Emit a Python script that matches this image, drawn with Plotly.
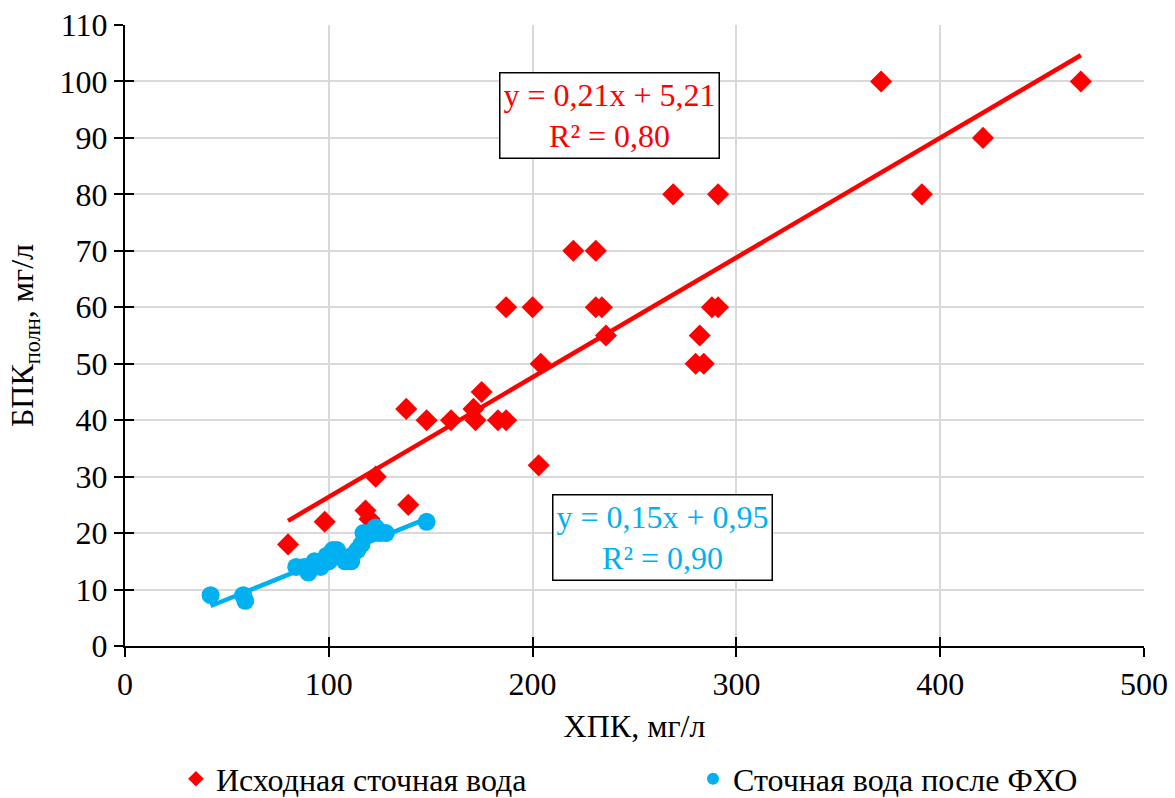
import plotly.graph_objects as go

# Исходная сточная вода: ХПК (мг/л) и БПК полн (мг/л)
raw_cod = [80, 98, 118, 120, 123, 139, 138, 148, 160, 171, 172, 175, 183, 187,
           187, 200, 204, 203, 220, 231, 231, 234, 236, 269, 282, 280, 284, 288,
           291, 291, 371, 391, 421, 469]
raw_bod = [18, 22, 24, 22.5, 30, 25, 42, 40, 40, 42, 40, 45, 40, 40,
           60, 60, 50, 32, 70, 70, 60, 60, 55, 80, 55, 50, 50, 60,
           60, 80, 100, 80, 90, 100]

# Сточная вода после ФХО
treated_cod = [42, 58, 59, 84, 88, 90, 93, 96, 99, 100, 102, 104, 108, 111,
               114, 116, 117, 120, 123, 125, 128, 148]
treated_bod = [9, 9, 8, 14, 14, 13, 15, 14, 16, 15, 17, 17, 15, 15,
               17, 18, 20, 20, 21, 20, 20, 22]

# Линейные тренды: наклон, свободный член, R²
raw_fit = (0.212, 5.21, 0.80)
treated_fit = (0.146, 0.95, 0.90)

series_names = ["Исходная сточная вода", "Сточная вода после ФХО"]
x_title = "ХПК, мг/л"
y_title = "БПК<sub>полн</sub>, мг/л"

RED = "#ff0000"
BLUE = "#00b0f0"
FONT = "Liberation Serif, Times New Roman, serif"
FS = 32


def fit_line(xs, fit):
    x0, x1 = min(xs), max(xs)
    k, b, _ = fit
    return [x0, x1], [k * x0 + b, k * x1 + b]


def fit_label(fit):
    k, b, r2 = fit
    num = lambda v: f"{v:.2f}".replace(".", ",")
    return f"y = {num(k)}x + {num(b)}<br>R² = {num(r2)}"


fig = go.Figure()

fig.add_trace(go.Scatter(
    x=raw_cod, y=raw_bod, mode="markers", name=series_names[0],
    marker=dict(symbol="diamond", size=17, color=RED), legend="legend",
))
fig.add_trace(go.Scatter(
    x=treated_cod, y=treated_bod, mode="markers", name=series_names[1],
    marker=dict(symbol="circle", size=18, color=BLUE), legend="legend2",
))

lx, ly = fit_line(raw_cod, raw_fit)
fig.add_trace(go.Scatter(x=lx, y=ly, mode="lines", showlegend=False,
                         line=dict(color=RED, width=4.5)))
lx, ly = fit_line(treated_cod, treated_fit)
fig.add_trace(go.Scatter(x=lx, y=ly, mode="lines", showlegend=False,
                         line=dict(color=BLUE, width=4.5)))

# helper trace on overlay axes that draw the inner half of the cross ticks
fig.add_trace(go.Scatter(x=[-50], y=[-50], xaxis="x2", yaxis="y2", mode="markers",
                         marker=dict(opacity=0), showlegend=False, hoverinfo="skip"))

axis_common = dict(
    showline=True, linecolor="black", linewidth=2,
    ticks="outside", ticklen=9, tickwidth=2, tickcolor="black",
    showgrid=True, gridcolor="#d9d9d9", gridwidth=1.5,
    zeroline=False, tickfont=dict(family=FONT, size=FS, color="black"),
)

legend_common = dict(orientation="h", xanchor="left", y=-0.214, yanchor="middle",
                     font=dict(family=FONT, size=FS), itemsizing="constant",
                     bgcolor="rgba(0,0,0,0)")

fig.update_layout(
    width=1175, height=798,
    margin=dict(l=125, r=31, t=25, b=152, autoexpand=False),
    paper_bgcolor="white", plot_bgcolor="white",
    font=dict(family=FONT, size=FS, color="black"),
    xaxis=dict(range=[0, 500], dtick=100, **axis_common,
               title=dict(text=x_title, font=dict(family=FONT, size=FS), standoff=13)),
    yaxis=dict(range=[0, 110], dtick=10, **axis_common,
               title=dict(text=y_title, font=dict(family=FONT, size=FS), standoff=16)),
    xaxis2=dict(range=[0, 500], dtick=100, overlaying="x", anchor="y2", side="bottom",
                ticks="inside", ticklen=9, tickwidth=2, tickcolor="black",
                showticklabels=False, showgrid=False, showline=False, zeroline=False),
    yaxis2=dict(range=[0, 110], dtick=10, overlaying="y", anchor="x2", side="left",
                ticks="inside", ticklen=9, tickwidth=2, tickcolor="black",
                showticklabels=False, showgrid=False, showline=False, zeroline=False),
    legend=dict(x=0.05, **legend_common),
    legend2=dict(x=0.5574, **legend_common),
    showlegend=True,
)

fig.add_annotation(
    x=237.5, y=93.9, xref="x", yref="y", showarrow=False,
    text=fit_label(raw_fit), font=dict(family=FONT, size=FS, color=RED),
    align="center", bordercolor="black", borderwidth=1.5, borderpad=3,
    bgcolor="white",
)
fig.add_annotation(
    x=263.7, y=19.2, xref="x", yref="y", showarrow=False,
    text=fit_label(treated_fit), font=dict(family=FONT, size=FS, color=BLUE),
    align="center", bordercolor="black", borderwidth=1.5, borderpad=3,
    bgcolor="white",
)

fig.write_html("out.html")
